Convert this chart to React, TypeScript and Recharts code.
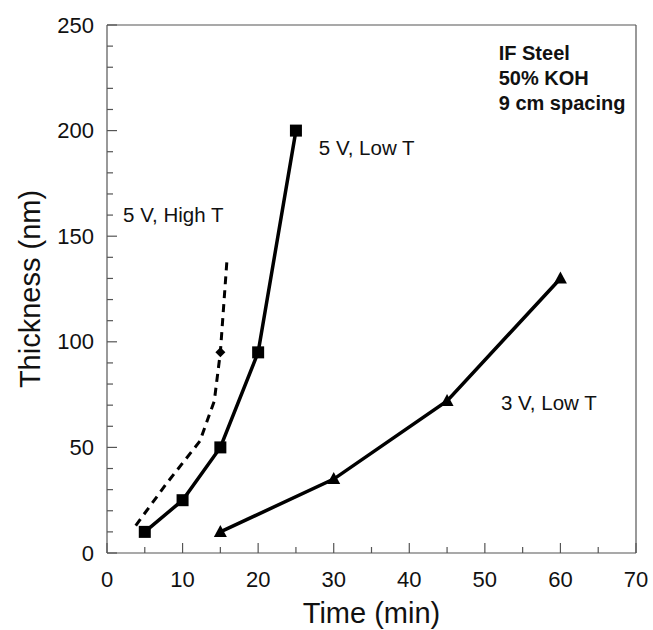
import { ComposedChart, Line, XAxis, YAxis, ReferenceDot } from 'recharts';

// 5 V, Low T (squares)
const lowT5Time = [5, 10, 15, 20, 25];
const lowT5Thick = [10, 25, 50, 95, 200];

// 3 V, Low T (triangles)
const lowT3Time = [15, 30, 45, 60];
const lowT3Thick = [10, 35, 72, 130];

// 5 V, High T (dashed, one diamond marker at 15 min)
const highT5Time = [3.8, 7.9, 12.3, 14.2, 15, 15.9];
const highT5Thick = [13, 33, 53, 72, 95, 140];
const highT5MarkerAt = 15;

const xTicks = [0, 5, 10, 15, 20, 25, 30, 35, 40, 45, 50, 55, 60, 65, 70];
const yTicks = [0, 10, 20, 30, 40, 50, 60, 70, 80, 90, 100, 110, 120, 130, 140, 150, 160, 170, 180, 190, 200, 210, 220, 230, 240, 250];

const notes = [
  { x: 27.9, y: 192, text: '5 V, Low T', bold: false },
  { x: 2.0, y: 160, text: '5 V, High T', bold: false },
  { x: 52.0, y: 71, text: '3 V, Low T', bold: false },
  { x: 51.7, y: 237, text: 'IF Steel', bold: true },
  { x: 51.7, y: 225, text: '50% KOH', bold: true },
  { x: 51.7, y: 213, text: '9 cm spacing', bold: true },
];

const zip = (xs: number[], ys: number[]) => xs.map((x, i) => ({ x, y: ys[i] }));
const lowT5 = zip(lowT5Time, lowT5Thick);
const lowT3 = zip(lowT3Time, lowT3Thick);
const highT5 = zip(highT5Time, highT5Thick);

const AXIS = '#555';
const FONT = "'Liberation Sans', Arial, sans-serif";

const isMajorX = (v: number) => v % 10 === 0;
const isMajorY = (v: number) => v % 50 === 0;

const BottomTick = (p: any) => {
  const major = isMajorX(p.payload.value);
  return (
    <g>
      <line x1={p.x} x2={p.x} y1={p.y} y2={p.y - (major ? 10 : 6)} stroke={AXIS} strokeWidth={1.2} />
      {major && (
        <text x={p.x} y={p.y + 26} textAnchor="middle" dominantBaseline="central" fontSize={22} fill="#111">
          {p.payload.value}
        </text>
      )}
    </g>
  );
};

const TopTick = (p: any) => {
  const major = isMajorX(p.payload.value);
  return <line x1={p.x} x2={p.x} y1={p.y} y2={p.y + (major ? 10 : 6)} stroke={AXIS} strokeWidth={1.2} />;
};

const LeftTick = (p: any) => {
  const major = isMajorY(p.payload.value);
  return (
    <g>
      <line x1={p.x} x2={p.x + (major ? 10 : 6)} y1={p.y} y2={p.y} stroke={AXIS} strokeWidth={1.2} />
      {major && (
        <text x={p.x - 13} y={p.y} textAnchor="end" dominantBaseline="central" fontSize={22} fill="#111">
          {p.payload.value}
        </text>
      )}
    </g>
  );
};

const RightTick = (p: any) => {
  const major = isMajorY(p.payload.value);
  return <line x1={p.x} x2={p.x - (major ? 10 : 6)} y1={p.y} y2={p.y} stroke={AXIS} strokeWidth={1.2} />;
};

const Square = (p: any) => (
  <rect key={`sq-${p.index}`} x={p.cx - 6} y={p.cy - 6} width={12} height={12} fill="#000" />
);

const Triangle = (p: any) => (
  <polygon
    key={`tr-${p.index}`}
    points={`${p.cx},${p.cy - 7} ${p.cx - 6.5},${p.cy + 5} ${p.cx + 6.5},${p.cy + 5}`}
    fill="#000"
  />
);

const Diamond = (p: any) =>
  p.payload && p.payload.x === highT5MarkerAt ? (
    <polygon
      key={`dm-${p.index}`}
      points={`${p.cx},${p.cy - 5} ${p.cx + 5},${p.cy} ${p.cx},${p.cy + 5} ${p.cx - 5},${p.cy}`}
      fill="#000"
    />
  ) : (
    <g key={`dm-${p.index}`} />
  );

const YTitle = (p: any) => {
  const vb = p.viewBox || { x: 8, y: 25, width: 99, height: 528 };
  const cx = vb.x + 22;
  const cy = vb.y + vb.height / 2;
  return (
    <text x={cx} y={cy} transform={`rotate(-90, ${cx}, ${cy})`} textAnchor="middle" dominantBaseline="central" fontSize={29} fill="#111">
      Thickness (nm)
    </text>
  );
};

export default function App() {
  return (
    <div style={{ position: 'absolute', left: 0, top: 0, width: 653, height: 630, overflow: 'hidden', fontFamily: FONT }}>
      <ComposedChart width={653} height={630} margin={{ top: 20, right: 7, bottom: 7, left: 8 }}>
        <XAxis
          dataKey="x"
          type="number"
          domain={[0, 70]}
          ticks={xTicks}
          interval={0}
          tickSize={0}
          tickMargin={0}
          tickLine={false}
          tick={<BottomTick />}
          axisLine={{ stroke: AXIS, strokeWidth: 1.2 }}
          height={70}
          label={{ value: 'Time (min)', position: 'insideBottom', offset: 0, fontSize: 29, fill: '#111' }}
        />
        <XAxis
          xAxisId="top"
          orientation="top"
          type="number"
          domain={[0, 70]}
          ticks={xTicks}
          interval={0}
          tickSize={0}
          tickMargin={0}
          tickLine={false}
          tick={<TopTick />}
          axisLine={{ stroke: AXIS, strokeWidth: 1.2 }}
          height={5}
        />
        <YAxis
          type="number"
          domain={[0, 250]}
          ticks={yTicks}
          interval={0}
          tickSize={0}
          tickMargin={0}
          tickLine={false}
          tick={<LeftTick />}
          axisLine={{ stroke: AXIS, strokeWidth: 1.2 }}
          width={99}
          label={{ content: <YTitle /> }}
        />
        <YAxis
          yAxisId="right"
          orientation="right"
          type="number"
          domain={[0, 250]}
          ticks={yTicks}
          interval={0}
          tickSize={0}
          tickMargin={0}
          tickLine={false}
          tick={<RightTick />}
          axisLine={{ stroke: AXIS, strokeWidth: 1.2 }}
          width={10}
        />
        <Line
          data={highT5}
          dataKey="y"
          type="linear"
          stroke="#000"
          strokeWidth={3}
          strokeDasharray="8 6"
          dot={Diamond}
          activeDot={false}
          isAnimationActive={false}
        />
        <Line
          data={lowT5}
          dataKey="y"
          type="linear"
          stroke="#000"
          strokeWidth={3.5}
          dot={Square}
          activeDot={false}
          isAnimationActive={false}
        />
        <Line
          data={lowT3}
          dataKey="y"
          type="linear"
          stroke="#000"
          strokeWidth={3.5}
          dot={Triangle}
          activeDot={false}
          isAnimationActive={false}
        />
        {notes.map((n) => (
          <ReferenceDot
            key={n.text}
            x={n.x}
            y={n.y}
            r={1}
            fill="none"
            stroke="none"
            label={{
              value: n.text,
              position: 'right',
              offset: 0,
              fontSize: n.bold ? 20 : 20.5,
              fontWeight: n.bold ? 700 : 400,
              fill: '#111',
            }}
          />
        ))}
      </ComposedChart>
    </div>
  );
}
